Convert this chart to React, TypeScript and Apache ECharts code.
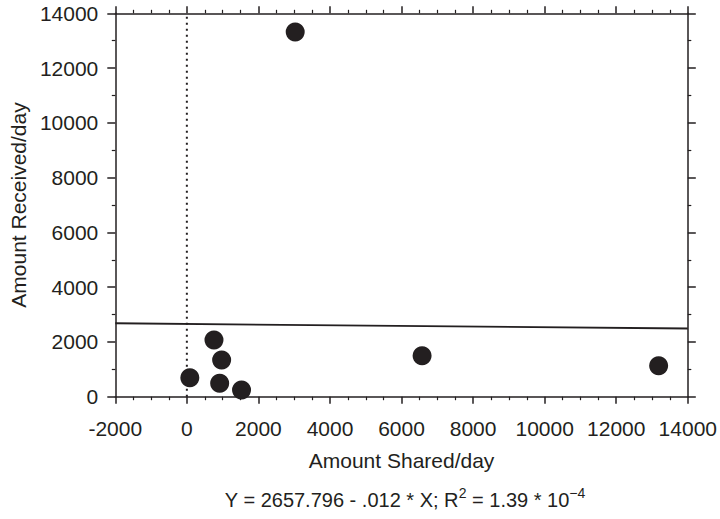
import React, { useEffect, useRef } from "react";
import * as echarts from "echarts";

const sharedPerDay = [758, 972, 83, 917, 1528, 6574, 13185, 3028];
const receivedPerDay = [2071, 1340, 694, 489, 245, 1498, 1132, 13320];
const intercept = 2657.796;
const slope = -0.012;
const xRange = [-2000, 14000];
const yRange = [0, 14000];
const zeroLineX = [0, 0];
const zeroLineY = [0, 14000];

const FONT = "Liberation Sans, Arial, Helvetica, sans-serif";
const INK = "#231f20";
const plain = (v: number) => String(v);

export default function App() {
  const ref = useRef<HTMLDivElement>(null);
  useEffect(() => {
    document.body.style.margin = "0";
    document.body.style.overflow = "hidden";
    if (!ref.current) return;
    const chart = echarts.init(ref.current, undefined, { renderer: "svg" });
    const pts = sharedPerDay.map((x, i) => [x, receivedPerDay[i]]);
    const reg = xRange.map((x) => [x, intercept + slope * x]);
    const zero = zeroLineX.map((x, i) => [x, zeroLineY[i]]);
    const axisCommon = {
      type: "value" as const,
      axisLine: { show: true, onZero: false, lineStyle: { color: INK, width: 1.5 } },
      splitLine: { show: false },
    };
    chart.setOption({
      animation: false,
      backgroundColor: "#fff",
      textStyle: { fontFamily: FONT },
      grid: { left: 114, right: 30, top: 13.3, bottom: 122.3, containLabel: false },
      xAxis: [
        {
          ...axisCommon,
          min: xRange[0],
          max: xRange[1],
          interval: 2000,
          position: "bottom",
          name: "Amount Shared/day",
          nameLocation: "middle",
          nameGap: 53,
          nameTextStyle: { fontSize: 21, color: INK, fontFamily: FONT },
          axisTick: { show: true, length: 7, lineStyle: { color: INK, width: 1.5 } },
          minorTick: { show: true, splitNumber: 4, length: 3.5, lineStyle: { color: INK, width: 1.2 } },
          axisLabel: { fontSize: 21, color: INK, margin: 21, fontFamily: FONT, formatter: plain },
        },
        {
          ...axisCommon,
          min: xRange[0],
          max: xRange[1],
          interval: 2000,
          position: "top",
          axisTick: { show: true, length: 7, lineStyle: { color: INK, width: 1.5 } },
          minorTick: { show: true, splitNumber: 4, length: 3.5, lineStyle: { color: INK, width: 1.2 } },
          axisLabel: { show: false },
        },
      ],
      yAxis: [
        {
          ...axisCommon,
          min: yRange[0],
          max: yRange[1],
          interval: 2000,
          position: "left",
          name: "Amount Received/day",
          nameLocation: "middle",
          nameGap: 77,
          nameTextStyle: { fontSize: 21, color: INK, fontFamily: FONT },
          axisTick: { show: true, length: 8, lineStyle: { color: INK, width: 1.5 } },
          minorTick: { show: true, splitNumber: 2, length: 3.5, lineStyle: { color: INK, width: 1.2 } },
          axisLabel: { fontSize: 21, color: INK, margin: 17, fontFamily: FONT, formatter: plain },
        },
        {
          ...axisCommon,
          min: yRange[0],
          max: yRange[1],
          interval: 2000,
          position: "right",
          axisTick: { show: true, length: 8, lineStyle: { color: INK, width: 1.5 } },
          minorTick: { show: true, splitNumber: 2, length: 3.5, lineStyle: { color: INK, width: 1.2 } },
          axisLabel: { show: false },
        },
      ],
      series: [
        {
          type: "line",
          data: zero,
          symbol: "none",
          lineStyle: { color: INK, width: 2, type: [2, 4] },
          silent: true,
        },
        {
          type: "line",
          data: reg,
          symbol: "none",
          lineStyle: { color: INK, width: 1.8 },
          silent: true,
        },
        {
          type: "scatter",
          data: pts,
          symbol: "circle",
          symbolSize: 19,
          itemStyle: { color: INK, opacity: 1 },
        },
      ],
      graphic: [
        {
          type: "text",
          x: 405,
          y: 500,
          style: {
            text: "{n|Y = 2657.796 - .012 * X; R}{s|2}{n| = 1.39 * 10}{s|−4}",
            align: "center",
            verticalAlign: "middle",
            fontFamily: FONT,
            fill: INK,
            rich: {
              n: { fontSize: 20, fontFamily: FONT, fill: INK, lineHeight: 24 },
              s: { fontSize: 14, fontFamily: FONT, fill: INK, lineHeight: 24, padding: [0, 0, 14, 0] },
            },
          },
        },
      ],
    });
    return () => chart.dispose();
  }, []);
  return <div ref={ref} style={{ width: 720, height: 519 }} />;
}
